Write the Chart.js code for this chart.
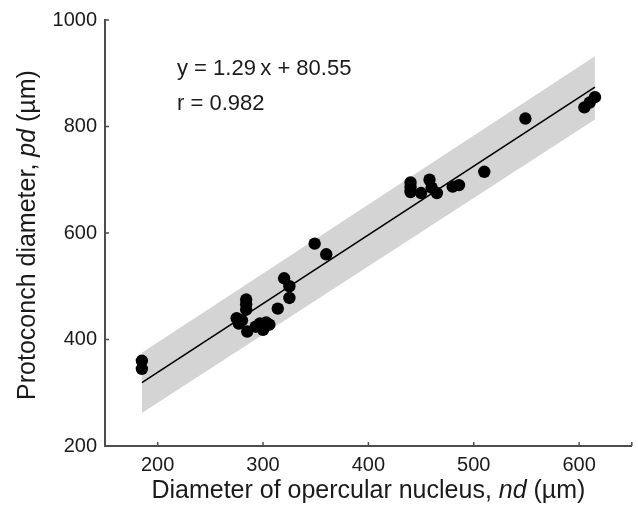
<!DOCTYPE html>
<html>
<head>
<meta charset="utf-8">
<script src="https://cdn.jsdelivr.net/npm/chart.js@4/dist/chart.umd.min.js"></script>
<style>
  html, body { margin: 0; padding: 0; background: #fff; }
  #wrap { width: 638px; height: 509px; }
</style>
</head>
<body>
<div id="wrap"><canvas id="chart-scatter"></canvas></div>
<script>
// tick values
var xTicks = [200, 300, 400, 500, 600];
var yTicks = [200, 400, 600, 800, 1000];

// nd (x) and pd (y) of every specimen
var ndValues = [185, 185, 275, 277, 280, 284, 284, 284, 285, 293, 297, 300, 303, 306, 314,
                320, 325, 325, 349, 360, 440, 440, 440, 450, 458, 460, 465, 480, 486, 510,
                549, 605, 610, 615];
var pdValues = [360, 345, 440, 430, 436, 475, 466, 456, 415, 424, 430, 418, 432, 428, 458,
                515, 500, 478, 580, 560, 695, 686, 677, 675, 700, 685, 675, 687, 690, 715,
                815, 836, 845, 855];

// regression line and grey band ends
var fitX = [185, 615];
var fitY = [319, 874];
var bandUpper = [375, 932];
var bandLower = [262, 813];

var equationLines = ["y = 1.29\u2009x + 80.55", "r = 0.982"];

var FONT = "'Liberation Sans', Arial, sans-serif";
var INK = "#1a1a1a";
var AXIS = "#4d4d4d";

function pts(xs, ys) {
  return xs.map(function (v, i) { return { x: v, y: ys[i] }; });
}

// draws text made of several runs (normal / italic) centred on x
function drawRuns(ctx, runs, x, y) {
  var total = 0;
  runs.forEach(function (r) { ctx.font = r.font; total += ctx.measureText(r.text).width; });
  var cx = x - total / 2;
  runs.forEach(function (r) {
    ctx.font = r.font;
    ctx.fillText(r.text, cx, y);
    cx += ctx.measureText(r.text).width;
  });
}

var overlay = {
  id: "overlay",
  afterDraw: function (chart) {
    var ctx = chart.ctx;
    var sx = chart.scales.x, sy = chart.scales.y;
    ctx.save();
    // inward tick marks
    ctx.strokeStyle = AXIS;
    ctx.lineWidth = 1.5;
    xTicks.concat([650]).forEach(function (v) {
      var px = sx.getPixelForValue(v);
      ctx.beginPath(); ctx.moveTo(px, sy.bottom); ctx.lineTo(px, sy.bottom - 4); ctx.stroke();
    });
    yTicks.forEach(function (v) {
      var py = sy.getPixelForValue(v);
      ctx.beginPath(); ctx.moveTo(sx.left, py); ctx.lineTo(sx.left + 4, py); ctx.stroke();
    });

    ctx.fillStyle = INK;
    ctx.textBaseline = "alphabetic";
    ctx.textAlign = "left";
    var n = "25px " + FONT, it = "italic 25px " + FONT;

    // x axis title
    drawRuns(ctx, [
      { text: "Diameter of opercular nucleus, ", font: n },
      { text: "nd", font: it },
      { text: " (\u00b5m)", font: n }
    ], (sx.left + sx.right) / 2, 498);

    // y axis title
    ctx.save();
    ctx.translate(35, (sy.top + sy.bottom) / 2 + 2);
    ctx.rotate(-Math.PI / 2);
    drawRuns(ctx, [
      { text: "Protoconch diameter, ", font: n },
      { text: "pd", font: it },
      { text: " (\u00b5m)", font: n }
    ], 0, 0);
    ctx.restore();

    // equation
    ctx.font = "22px " + FONT;
    ctx.fillText(equationLines[0], 177, 75);
    ctx.fillText(equationLines[1], 177, 110);
    ctx.restore();
  }
};

function plainLabel(v) { return String(v); }

var htmlTag = document.getElementById("chart-scatter");
var chartScatter = new Chart(htmlTag, {
  type: "scatter",
  data: {
    datasets: [
      {
        label: "Specimens",
        data: pts(ndValues, pdValues),
        backgroundColor: "#000",
        borderColor: "#000",
        pointRadius: 6.2,
        pointBorderWidth: 0,
        order: 0
      },
      {
        type: "line",
        label: "Fit",
        data: pts(fitX, fitY),
        borderColor: "#000",
        borderWidth: 1.6,
        pointRadius: 0,
        fill: false,
        order: 1
      },
      {
        type: "line",
        label: "Band upper",
        data: pts(fitX, bandUpper),
        borderWidth: 0,
        borderColor: "rgba(0,0,0,0)",
        backgroundColor: "#d4d4d4",
        pointRadius: 0,
        fill: "+1",
        order: 2
      },
      {
        type: "line",
        label: "Band lower",
        data: pts(fitX, bandLower),
        borderWidth: 0,
        borderColor: "rgba(0,0,0,0)",
        pointRadius: 0,
        fill: false,
        order: 3
      }
    ]
  },
  options: {
    responsive: true,
    maintainAspectRatio: false,
    animation: false,
    events: [],
    layout: { padding: { left: 0, top: 20, right: 3, bottom: 0 } },
    plugins: { legend: { display: false }, tooltip: { enabled: false } },
    scales: {
      x: {
        type: "linear",
        min: 150,
        max: 650,
        afterBuildTicks: function (s) { s.ticks = xTicks.map(function (v) { return { value: v }; }); },
        afterFit: function (s) { s.height = 63; },
        grid: { display: false, drawTicks: false },
        border: { display: true, color: AXIS, width: 2 },
        ticks: { padding: 7, color: INK, font: { family: FONT, size: 20 }, callback: plainLabel }
      },
      y: {
        type: "linear",
        min: 200,
        max: 1000,
        afterBuildTicks: function (s) { s.ticks = yTicks.map(function (v) { return { value: v }; }); },
        afterFit: function (s) { s.width = 105; },
        grid: { display: false, drawTicks: false },
        border: { display: true, color: AXIS, width: 2 },
        ticks: { padding: 8, color: INK, font: { family: FONT, size: 20 }, callback: plainLabel }
      }
    }
  },
  plugins: [overlay]
});
</script>
</body>
</html>
